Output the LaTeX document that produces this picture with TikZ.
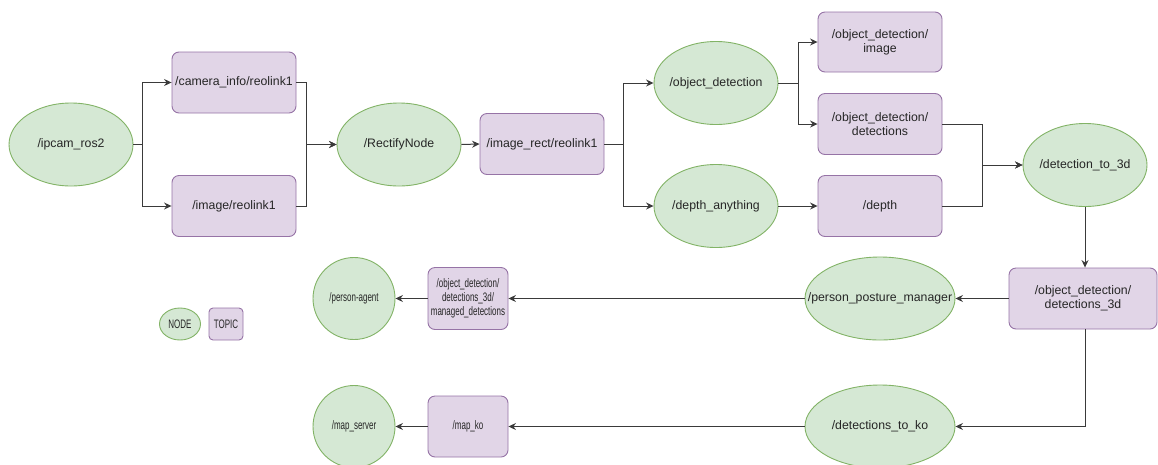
\documentclass[tikz,border=0pt]{standalone}
\usepackage{fontspec}
\setmainfont{Liberation Sans}
\newfontfamily\condfont[FakeStretch=0.65]{Liberation Sans}
\usetikzlibrary{shapes.geometric,arrows.meta}
\definecolor{nodefill}{HTML}{D5E8D4}
\definecolor{nodeline}{HTML}{82B366}
\definecolor{topicfill}{HTML}{E1D5E7}
\definecolor{topicline}{HTML}{9673A6}
\definecolor{edgecol}{HTML}{3A3A3A}
\begin{document}
\begin{tikzpicture}[x=1pt,y=-1pt,
  lbl/.style={font=\fontsize{12.3}{14.3}\selectfont, text=black!85},
  clbl/.style={font=\condfont\fontsize{12.3}{14.3}\selectfont, text=black!85},
  rosnode/.style={ellipse, draw=nodeline, fill=nodefill, line width=0.9pt,
    minimum width=124pt, minimum height=83pt, inner xsep=-24pt, inner ysep=0pt, lbl},
  topic/.style={rectangle, rounded corners=7pt, draw=topicline, fill=topicfill,
    line width=0.9pt, minimum width=124pt, minimum height=61pt, inner sep=0pt,
    align=center, lbl},
  edge/.style={draw=edgecol, line width=1pt,
    -{Stealth[length=7.5pt,width=7pt,inset=2.5pt]}}]
\useasboundingbox (0,0) rectangle (1158,464);

% nodes
\node[rosnode] (ipcam) at (71,144.5) {/ipcam\_ros2};
\node[topic] (caminfo) at (234,82.5) {/camera\_info/reolink1};
\node[topic] (imgr) at (234,206) {/image/reolink1};
\node[rosnode] (rectify) at (399,144.5) {/RectifyNode};
\node[topic] (imgrect) at (542,144) {/image\_rect/reolink1};
\node[rosnode] (objdet) at (716,83) {/object\_detection};
\node[rosnode] (depthany) at (716,206) {/depth\_anything};
\node[topic, minimum height=60pt] (odimage) at (880,42) {/object\_detection/\\image};
\node[topic] (oddet) at (880,124) {/object\_detection/\\detections};
\node[topic] (depth) at (880,206) {/depth};
\node[rosnode] (d23) at (1085,165) {/detection\_to\_3d};
\node[topic, minimum width=148pt] (d3d) at (1083,298.5) {/object\_detection/\\detections\_3d};
\node[rosnode, minimum width=150pt, inner xsep=-40pt] (ppm) at (880,298.5) {/person\_posture\_manager};
\node[topic, minimum width=80pt, minimum height=62pt, clbl] (managed) at (468,298.5)
  {/object\_detection/\\detections\_3d/\\managed\_detections};
\node[rosnode, minimum width=82pt, minimum height=82pt, clbl] (pagent) at (354,298.5) {/person-agent};
\node[rosnode, minimum width=150pt] (dtk) at (880,426.5) {/detections\_to\_ko};
\node[topic, minimum width=80pt, minimum height=61pt, clbl] (mapko) at (468,426.5) {/map\_ko};
\node[rosnode, minimum width=82pt, minimum height=82pt, clbl] (mapserver) at (354,426.5) {/map\_server};

% legend
\node[rosnode, minimum width=41pt, minimum height=32pt, inner xsep=-8pt, clbl] (legnode) at (180,324) {NODE};
\node[topic, minimum width=34pt, minimum height=32pt, rounded corners=4pt, clbl] (legtopic) at (226,324) {TOPIC};

% edges
\draw[edge] (ipcam.east) -- ++(9,0) |- (caminfo.west);
\draw[edge] (ipcam.east) -- ++(9,0) |- (imgr.west);
\draw[edge] (caminfo.east) -- ++(10,0) |- (rectify.west);
\draw[edge] (imgr.east) -- ++(10,0) |- (rectify.west);
\draw[edge] (rectify.east) -- (imgrect.west);
\draw[edge] (imgrect.east) -- ++(19,0) |- (objdet.west);
\draw[edge] (imgrect.east) -- ++(19,0) |- (depthany.west);
\draw[edge] (objdet.east) -- ++(20,0) |- (odimage.west);
\draw[edge] (objdet.east) -- ++(20,0) |- (oddet.west);
\draw[edge] (depthany.east) -- (depth.west);
\draw[edge] (oddet.east) -- ++(40,0) |- (d23.west);
\draw[edge] (depth.east) -- ++(40,0) |- (d23.west);
\draw[edge] (d23.south) -- (d23.south |- d3d.north);
\draw[edge] (d3d.west) -- (ppm.east);
\draw[edge] (ppm.west) -- (managed.east);
\draw[edge] (managed.west) -- (pagent.east);
\draw[edge] (d23.south |- d3d.south) |- (dtk.east);
\draw[edge] (dtk.west) -- (mapko.east);
\draw[edge] (mapko.west) -- (mapserver.east);
\end{tikzpicture}
\end{document}
